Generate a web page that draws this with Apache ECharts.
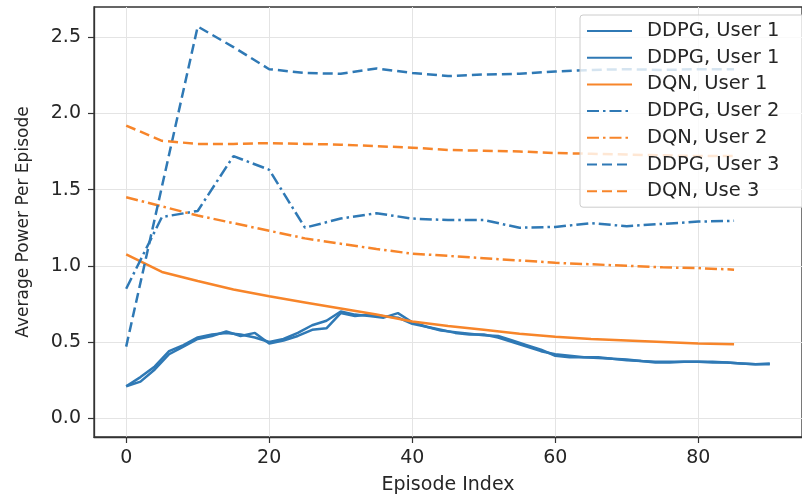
<!DOCTYPE html>
<html>
<head>
<meta charset="utf-8">
<script src="https://cdn.jsdelivr.net/npm/echarts@6/dist/echarts.min.js"></script>
<style>html,body{margin:0;padding:0;background:#fff}#c{width:802px;height:500px}</style>
</head>
<body>
<div id="c"></div>
<script>
// ---- data ----
const xTicks = [0, 20, 40, 60, 80];
const yTicks = [0, 0.5, 1.0, 1.5, 2.0, 2.5];

const epFine = [0,2,4,6,8,10,12,14,16,18,20,22,24,26,28,30,32,34,36,38,40,42,44,46,48,50,52,54,56,58,60,62,64,66,68,70,72,74,76,78,80,82,84,86,88,90];
const ddpgUser1a = [0.21,0.27,0.34,0.44,0.48,0.53,0.55,0.56,0.55,0.53,0.50,0.52,0.56,0.61,0.64,0.70,0.68,0.67,0.66,0.69,0.63,0.60,0.58,0.56,0.55,0.55,0.53,0.50,0.47,0.44,0.42,0.41,0.40,0.40,0.39,0.385,0.375,0.37,0.37,0.37,0.37,0.37,0.365,0.36,0.355,0.36];
const ddpgUser1b = [0.21,0.24,0.32,0.42,0.47,0.52,0.54,0.57,0.54,0.56,0.49,0.51,0.54,0.58,0.59,0.69,0.67,0.68,0.67,0.66,0.62,0.60,0.575,0.565,0.555,0.545,0.54,0.51,0.48,0.45,0.41,0.40,0.40,0.395,0.39,0.38,0.375,0.365,0.365,0.37,0.37,0.365,0.365,0.36,0.355,0.355];

const ep5 = [0,5,10,15,20,25,30,35,40,45,50,55,60,65,70,75,80,85];
const dqnUser1  = [1.075,0.96,0.90,0.845,0.80,0.76,0.72,0.68,0.635,0.605,0.58,0.555,0.535,0.52,0.51,0.50,0.49,0.485];
const ddpgUser2 = [0.85,1.32,1.36,1.72,1.63,1.25,1.31,1.345,1.31,1.30,1.30,1.25,1.255,1.28,1.26,1.275,1.29,1.295];
const dqnUser2  = [1.45,1.39,1.33,1.28,1.23,1.18,1.145,1.11,1.08,1.065,1.05,1.035,1.02,1.01,1.00,0.99,0.985,0.975];
const ddpgUser3 = [0.47,1.52,2.57,2.435,2.29,2.265,2.26,2.295,2.265,2.245,2.255,2.26,2.275,2.285,2.29,2.285,2.29,2.29];
const dqnUser3  = [1.92,1.82,1.80,1.80,1.805,1.80,1.795,1.785,1.775,1.76,1.755,1.75,1.74,1.735,1.73,1.725,1.72,1.72];

const seriesNames = ['DDPG, User 1', 'DDPG, User 1 ', 'DQN, User 1', 'DDPG, User 2', 'DQN, User 2', 'DDPG, User 3', 'DQN, Use 3'];

// ---- chart ----
const BLUE = '#2f79b5', ORANGE = '#f7852a';
const FONT = 'DejaVu Sans';
const TXT = '#262626';
const pairs = (xs, ys) => xs.map((x, i) => [x, ys[i]]);
function line(name, xs, ys, color, type) {
  return {
    name, type: 'line', data: pairs(xs, ys), symbol: 'none', smooth: false,
    lineStyle: { color, width: 2.5, type }, itemStyle: { color },
    emphasis: { disabled: true }, animation: false
  };
}
const DASH = [10, 5];
const DASHDOT = [12, 4, 2.5, 4];

const chart = echarts.init(document.getElementById('c'), null, { renderer: 'canvas' });
chart.setOption({
  animation: false,
  backgroundColor: '#fff',
  textStyle: { fontFamily: FONT },
  grid: { left: 94, top: 7, right: -11, bottom: 58, show: true, borderColor: '#333', borderWidth: 1.3, backgroundColor: 'transparent' },
  xAxis: {
    type: 'value', min: -4.5, max: 94.5, minInterval: 20, maxInterval: 20,
    name: 'Episode Index', nameLocation: 'middle', nameGap: 39,
    nameTextStyle: { fontFamily: FONT, fontSize: 19, color: TXT },
    axisLine: { show: true, onZero: false, lineStyle: { color: '#333', width: 1.3 } },
    axisTick: { show: true, customValues: xTicks, length: 6, lineStyle: { color: '#333', width: 1.2 } },
    axisLabel: { customValues: xTicks, margin: 12, fontFamily: FONT, fontSize: 19, color: TXT, formatter: v => String(v) },
    splitLine: { show: true, lineStyle: { color: '#e4e4e4', width: 1 } }
  },
  yAxis: {
    type: 'value', min: -0.123, max: 2.698, minInterval: 0.5, maxInterval: 0.5,
    name: 'Average Power Per Episode', nameLocation: 'middle', nameGap: 62, nameRotate: 90,
    nameTextStyle: { fontFamily: FONT, fontSize: 17, color: TXT },
    axisLine: { show: true, onZero: false, lineStyle: { color: '#333', width: 1.3 } },
    axisTick: { show: true, customValues: yTicks, length: 6, lineStyle: { color: '#333', width: 1.2 } },
    axisLabel: { customValues: yTicks, margin: 13, fontFamily: FONT, fontSize: 19, color: TXT, formatter: v => Number(v).toFixed(1) },
    splitLine: { show: true, lineStyle: { color: '#e4e4e4', width: 1 } }
  },
  legend: {
    orient: 'vertical', left: 580, top: 15,
    data: seriesNames,
    itemWidth: 45, itemHeight: 14, itemGap: 6.7,
    padding: [6, 30, 6, 6],
    backgroundColor: 'rgba(255,255,255,0.8)', borderColor: '#cccccc', borderWidth: 1, borderRadius: 3,
    itemStyle: { opacity: 0 },
    textStyle: { fontFamily: FONT, fontSize: 19.5, color: TXT, lineHeight: 20, padding: [0, 0, 0, 10] },
    formatter: n => n.trim(),
    selectedMode: false
  },
  series: [
    line(seriesNames[0], epFine, ddpgUser1a, BLUE, 'solid'),
    line(seriesNames[1], epFine, ddpgUser1b, BLUE, 'solid'),
    line(seriesNames[2], ep5, dqnUser1, ORANGE, 'solid'),
    line(seriesNames[3], ep5, ddpgUser2, BLUE, DASHDOT),
    line(seriesNames[4], ep5, dqnUser2, ORANGE, DASHDOT),
    line(seriesNames[5], ep5, ddpgUser3, BLUE, DASH),
    line(seriesNames[6], ep5, dqnUser3, ORANGE, DASH)
  ]
});
</script>
</body>
</html>
